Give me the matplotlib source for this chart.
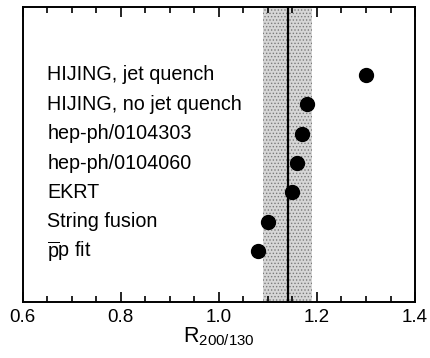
import matplotlib
matplotlib.use('Agg')
import matplotlib.pyplot as plt
from matplotlib.ticker import MultipleLocator

plt.rcParams['font.family'] = 'Liberation Sans'
plt.rcParams['mathtext.fontset'] = 'custom'
plt.rcParams['mathtext.rm'] = 'Liberation Sans'
plt.rcParams['mathtext.it'] = 'Liberation Sans'
plt.rcParams['hatch.linewidth'] = 0.6

# model predictions for R(200/130), listed top to bottom
models = ['HIJING, jet quench', 'HIJING, no jet quench', 'hep-ph/0104303',
          'hep-ph/0104060', 'EKRT', 'String fusion',
          r'$\overline{\mathrm{p}}\mathrm{p}$ fit']
ratios = [1.30, 1.18, 1.17, 1.16, 1.15, 1.10, 1.08]

# measured value and its band
meas = 1.14
meas_lo = 1.09
meas_hi = 1.19

fig = plt.figure(figsize=(4.31, 3.58), dpi=100)
ax = fig.add_axes([0.0527, 0.157, 0.9103, 0.8236])

ypos = list(range(len(models), 0, -1))

ax.axvspan(meas_lo, meas_hi, facecolor='#d6d6d6', edgecolor='#7a7a7a',
           hatch='.....', linewidth=0, zorder=1)
ax.axvline(meas, color='black', linewidth=1.6, zorder=2)
ax.plot(ratios, ypos, 'o', color='black', markersize=10, zorder=3)

for name, y in zip(models, ypos):
    ax.text(0.65, y, name, fontsize=14.2, va='center', ha='left', zorder=4)

ax.set_xlim(0.6, 1.4)
ax.set_ylim(-0.72, 9.31)
ax.xaxis.set_minor_locator(MultipleLocator(0.05))
ax.set_xticks([0.6, 0.8, 1.0, 1.2, 1.4])
ax.set_xticklabels(['0.6', '0.8', '1.0', '1.2', '1.4'], fontsize=13.5)
ax.tick_params(axis='x', which='both', direction='in', top=True, pad=5)
ax.tick_params(axis='x', which='major', length=7, width=1.2)
ax.tick_params(axis='x', which='minor', length=4, width=1.2)
ax.set_yticks([])
for s in ax.spines.values():
    s.set_linewidth(1.4)

ax.set_xlabel(r'R$_{\mathregular{200/130}}$', fontsize=15.5, labelpad=0)

plt.savefig('out.png', dpi=100)
